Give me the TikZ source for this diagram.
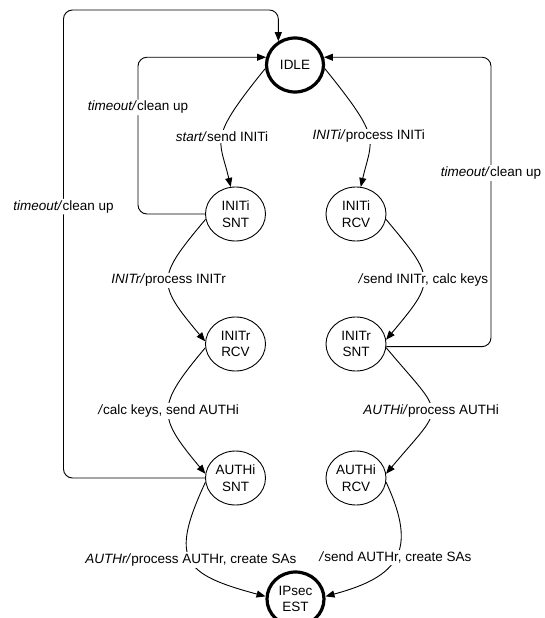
\documentclass[tikz,border=0pt]{standalone}
\usepackage{fontspec}
\setmainfont{Liberation Sans}
\usetikzlibrary{arrows.meta,shapes.geometric}
\tikzset{
  st/.style={ellipse, draw, line width=0.9pt, minimum width=60pt, minimum height=54pt,
             inner sep=0pt, align=center},
  stk/.style={st, line width=3.2pt, minimum width=57pt},
  tr/.style={-{Triangle[length=9pt,width=7pt]}, line width=0.9pt},
  bk/.style={tr, rounded corners=9pt},
  lbl/.style={fill=white, inner sep=1.5pt}
}
\newcommand{\ev}[1]{\textit{#1/}}

\begin{document}
\begin{tikzpicture}[x=1pt, y=1pt, font=\fontsize{13.5}{16.5}\selectfont]
  \path[use as bounding box, clip] (0,0) rectangle (544,-618);
  \node[stk] (idle) at (295,-65) {IDLE};
  \node[st] (isnt) at (235.5,-214) {INITi\\SNT};
  \node[st] (ircv) at (356,-214) {INITi\\RCV};
  \node[st] (rrcv) at (235.5,-344) {INITr\\RCV};
  \node[st] (rsnt) at (356,-344) {INITr\\SNT};
  \node[st] (asnt) at (235.5,-478) {AUTHi\\SNT};
  \node[st] (arcv) at (356,-478) {AUTHi\\RCV};
  \node[stk] (est) at (295.5,-599) {IPsec\\EST};
  \coordinate (top) at (0,-10);
  \coordinate (lin) at (138,0);
  \coordinate (lout) at (63.5,0);
  \coordinate (rout) at (491,0);

  \draw[tr] (idle.187) to[out=231, in=103, out distance=92pt, in distance=50pt] node[lbl]{\ev{start}send INITi} (isnt.100);
  \draw[tr] (idle.353) to[out=-51, in=77, out distance=92pt, in distance=50pt] node[lbl]{\ev{INITi}process INITi} (ircv.80);
  \draw[tr] (isnt.190) to[out=230, in=130, looseness=1.6] node[lbl]{\ev{INITr}process INITr} (rrcv.175);
  \draw[tr] (ircv.350) to[out=-50, in=50, looseness=1.65] node[lbl]{\textit{/}send INITr, calc keys} (rsnt.8);
  \draw[tr] (rrcv.187) to[out=230, in=130, looseness=1.55] node[lbl]{\textit{/}calc keys, send AUTHi} (asnt.172);
  \draw[tr] (rsnt.353) to[out=-50, in=50, looseness=1.9] node[lbl]{\ev{AUTHi}process AUTHi} (arcv.8);
  \draw[tr] (asnt.188) to[out=245, in=165, looseness=1.7] node[lbl]{\ev{AUTHr}process AUTHr, create SAs} (est.175);
  \draw[tr] (arcv.352) to[out=-65, in=15, looseness=1.5] node[lbl]{\textit{/}send AUTHr, create SAs} (est.5);

  \draw[bk] (isnt.180) -- (isnt.180 -| lin) |- node[lbl, pos=0.34]{\ev{timeout}clean up} (idle.165);
  \draw[bk] (asnt.180) -- (asnt.180 -| lout) |- node[lbl, pos=0.29]{\ev{timeout}clean up} (top -| idle.125) -- (idle.125);
  \draw[bk] (rsnt.355) -- (rsnt.355 -| rout) |- node[lbl, pos=0.3]{\ev{timeout}clean up} (idle.15);
\end{tikzpicture}
\end{document}
